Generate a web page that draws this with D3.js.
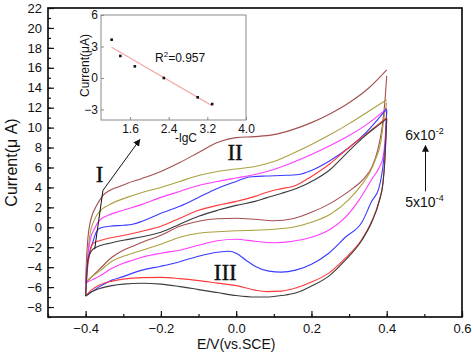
<!DOCTYPE html>
<html lang="en">
<head>
<meta charset="UTF-8">
<title>CV curves</title>
<script src="https://d3js.org/d3.v7.min.js"></script>
<style>
  body { margin: 0; background: #fff; }
</style>
</head>
<body>
<svg width="473" height="356" font-family='"Liberation Sans", Arial, sans-serif' fill="#111"></svg>
<script>
// [E (V), I (uA)] pairs, forward (upper) and reverse (lower) sweeps
const brownFwd = [[-0.4,-5.6],[-0.398,-3.5],[-0.394,-1.1],[-0.389,0.3],[-0.382,1.3],[-0.372,2.1],[-0.363,2.7],[-0.354,3.2],[-0.336,3.7],[-0.31,4.1],[-0.29,4.4],[-0.25,4.9],[-0.2,5.6],[-0.15,6.5],[-0.1,7.5],[-0.05,8.5],[0,9.0],[0.05,9.1],[0.1,9.3],[0.15,9.8],[0.2,10.5],[0.25,11.4],[0.3,12.5],[0.35,13.9],[0.4,15.8]];
const brownRev = [[-0.4,-5.6],[-0.385,-5.0],[-0.363,-4.2],[-0.33,-3.0],[-0.3,-2.3],[-0.275,-1.9],[-0.25,-1.5],[-0.2,-0.8],[-0.15,0.1],[-0.1,0.6],[-0.05,0.85],[0,0.9],[0.05,0.8],[0.1,0.65],[0.15,0.85],[0.2,1.5],[0.25,2.4],[0.28,3.1],[0.31,3.9],[0.34,4.9],[0.36,6.0],[0.375,7.6],[0.388,10.1],[0.396,13.0],[0.4,15.2]];

const oliveFwd = [[-0.4,-5.5],[-0.397,-4.0],[-0.394,-2.6],[-0.388,-0.6],[-0.381,0.4],[-0.372,1.1],[-0.363,1.6],[-0.34,2.2],[-0.319,2.6],[-0.29,3.0],[-0.25,3.5],[-0.2,4.0],[-0.15,4.6],[-0.1,5.2],[-0.05,5.6],[0,5.85],[0.05,6.1],[0.1,6.6],[0.15,7.4],[0.2,8.3],[0.25,9.3],[0.3,10.4],[0.35,11.6],[0.4,12.8]];
const oliveRev = [[-0.4,-5.5],[-0.385,-5.0],[-0.363,-4.4],[-0.33,-3.4],[-0.3,-2.9],[-0.275,-2.6],[-0.25,-2.3],[-0.2,-1.7],[-0.15,-1.0],[-0.1,-0.6],[-0.05,-0.45],[0,-0.35],[0.05,-0.3],[0.1,-0.2],[0.15,0.0],[0.2,0.5],[0.25,1.3],[0.3,2.8],[0.334,4.3],[0.355,5.5],[0.37,6.8],[0.384,8.5],[0.393,11.0],[0.4,12.5]];

const magentaFwd = [[-0.4,-5.6],[-0.396,-3.5],[-0.388,-1.3],[-0.376,-0.1],[-0.363,0.7],[-0.34,1.2],[-0.31,1.6],[-0.25,2.3],[-0.2,3.0],[-0.15,3.6],[-0.1,4.2],[-0.05,4.6],[0,4.95],[0.05,5.3],[0.1,5.8],[0.15,6.5],[0.2,7.3],[0.25,8.2],[0.3,9.2],[0.35,10.4],[0.4,11.9]];
const magentaRev = [[-0.4,-5.6],[-0.385,-5.3],[-0.363,-4.9],[-0.33,-4.1],[-0.3,-3.6],[-0.275,-3.3],[-0.25,-3.0],[-0.2,-2.6],[-0.15,-2.3],[-0.1,-1.8],[-0.05,-1.35],[0,-1.2],[0.05,-1.4],[0.1,-1.55],[0.15,-1.4],[0.2,-1.0],[0.25,-0.2],[0.29,1.0],[0.326,2.7],[0.36,4.8],[0.38,6.0],[0.39,7.0],[0.396,9.0],[0.4,11.7]];

const blueFwd = [[-0.4,-6.9],[-0.397,-4.5],[-0.39,-2.6],[-0.381,-1.5],[-0.372,-0.5],[-0.363,-0.1],[-0.336,0.1],[-0.3,0.2],[-0.275,0.3],[-0.25,0.6],[-0.2,1.4],[-0.15,2.1],[-0.1,3.0],[-0.05,3.9],[0,4.6],[0.035,5.05],[0.08,5.15],[0.12,5.2],[0.167,5.3],[0.2,5.7],[0.25,6.7],[0.3,8.0],[0.35,9.7],[0.4,11.9]];
const blueRev = [[-0.4,-6.9],[-0.385,-6.5],[-0.363,-5.95],[-0.33,-5.3],[-0.3,-4.95],[-0.275,-4.6],[-0.25,-4.3],[-0.2,-3.9],[-0.15,-3.45],[-0.1,-2.9],[-0.05,-2.5],[-0.018,-2.4],[0,-2.6],[0.026,-3.3],[0.05,-3.9],[0.087,-4.4],[0.12,-4.5],[0.158,-4.3],[0.2,-3.7],[0.246,-2.6],[0.29,-1.0],[0.334,0.5],[0.36,2.6],[0.379,3.9],[0.392,6.8],[0.397,9.0],[0.4,11.8]];

const redFwd = [[-0.4,-6.9],[-0.396,-4.5],[-0.389,-2.6],[-0.38,-1.6],[-0.363,-1.35],[-0.34,-1.1],[-0.31,-0.9],[-0.25,-0.4],[-0.2,0.1],[-0.15,0.9],[-0.1,1.7],[-0.05,2.2],[0,2.6],[0.05,3.1],[0.08,3.5],[0.11,3.8],[0.158,4.2],[0.2,5.1],[0.25,6.4],[0.29,7.7],[0.34,9.2],[0.38,10.4],[0.4,11.0]];
const redRev = [[-0.4,-6.9],[-0.385,-6.3],[-0.363,-5.78],[-0.33,-5.4],[-0.3,-5.2],[-0.25,-5.05],[-0.2,-5.02],[-0.15,-5.15],[-0.1,-5.35],[-0.05,-5.6],[0,-5.85],[0.05,-6.3],[0.08,-6.45],[0.12,-6.4],[0.158,-6.1],[0.2,-5.5],[0.246,-4.6],[0.29,-3.1],[0.334,-1.2],[0.36,0.6],[0.38,2.7],[0.39,4.5],[0.395,6.8],[0.4,11.0]];

const blackFwd = [[-0.4,-6.9],[-0.397,-4.8],[-0.394,-3.3],[-0.385,-2.4],[-0.372,-2.0],[-0.336,-1.6],[-0.3,-1.3],[-0.25,-0.95],[-0.2,-0.5],[-0.15,0.3],[-0.1,1.1],[-0.05,1.7],[0,2.2],[0.05,2.6],[0.08,2.95],[0.12,3.4],[0.16,3.9],[0.21,4.8],[0.25,5.8],[0.29,7.3],[0.34,9.1],[0.38,10.3],[0.4,10.9]];
const blackRev = [[-0.4,-6.9],[-0.385,-6.5],[-0.363,-6.15],[-0.33,-5.85],[-0.3,-5.7],[-0.25,-5.62],[-0.2,-5.7],[-0.15,-5.95],[-0.1,-6.25],[-0.05,-6.55],[0,-6.85],[0.05,-7.0],[0.08,-7.0],[0.12,-6.85],[0.158,-6.6],[0.2,-5.9],[0.246,-4.9],[0.29,-3.3],[0.334,-1.3],[0.36,0.5],[0.38,2.6],[0.39,4.4],[0.395,6.7],[0.4,10.9]];

const sweeps = [[brownFwd, brownRev], [oliveFwd, oliveRev], [magentaFwd, magentaRev], [blueFwd, blueRev], [redFwd, redRev], [blackFwd, blackRev]];
const lineColors = ["#a34f4f", "#aba040", "#ff3cff", "#3a3aff", "#ff3a3a", "#3c3c3c"];

// inset: -lgC vs peak current
const negLgC = [1.22, 1.40, 1.70, 2.30, 3.00, 3.30];
const peakCurrent = [3.65, 2.1, 1.11, 0.0, -1.84, -2.48];

const xTicks = [-0.4, -0.2, 0.0, 0.2, 0.4, 0.6];
const yTicks = d3.range(-8, 23, 2);
const insetXTicks = [1.6, 2.4, 3.2, 4.0];
const insetYTicks = [-3, 0, 3, 6];

// labels placed in data coordinates [E, I]
const peakLabels = [["I", -0.363, 4.5], ["II", -0.003, 6.8], ["III", -0.029, -5.3]];
const peakArrow = [[-0.376, -2.2], [-0.354, 3.7], [-0.256, 8.8]];

const svg = d3.select("svg");
const margin = {left: 48, right: 462, top: 8, bottom: 317};

const x = d3.scaleLinear().domain([-0.5, 0.6]).range([margin.left, margin.right]);
const y = d3.scaleLinear().domain([-9, 22]).range([margin.bottom, margin.top]);

svg.append("defs").append("marker")
    .attr("id", "head")
    .attr("viewBox", "0 0 10 10")
    .attr("refX", 9).attr("refY", 5)
    .attr("markerWidth", 7).attr("markerHeight", 7)
    .attr("markerUnits", "userSpaceOnUse")
    .attr("orient", "auto")
  .append("path")
    .attr("d", "M0,0 L10,5 L0,10 z")
    .attr("fill", "#111");

// axes, ticks pointing inward
const minorX = svg.append("g").attr("transform", `translate(0,${margin.bottom})`)
    .call(d3.axisBottom(x).tickValues(d3.range(-0.5, 0.61, 0.1)).tickSize(-3).tickFormat(""));
const xAxis = svg.append("g").attr("transform", `translate(0,${margin.bottom})`)
    .call(d3.axisBottom(x).tickValues(xTicks).tickSizeInner(-6).tickSizeOuter(0).tickPadding(7).tickFormat(d3.format(".1f")));
const minorY = svg.append("g").attr("transform", `translate(${margin.left},0)`)
    .call(d3.axisLeft(y).tickValues(d3.range(-9, 23, 1)).tickSize(-3).tickFormat(""));
const yAxis = svg.append("g").attr("transform", `translate(${margin.left},0)`)
    .call(d3.axisLeft(y).tickValues(yTicks).tickSizeInner(-6).tickSizeOuter(0).tickPadding(6));

[minorX, xAxis, minorY, yAxis].forEach(a => {
    a.select(".domain").remove();
    a.selectAll("line").attr("stroke", "#111").attr("stroke-width", 1.2);
    a.attr("font-size", 13).attr("font-family", null);
    a.selectAll("text").attr("fill", "#111");
});

svg.append("rect")
    .attr("x", margin.left).attr("y", margin.top)
    .attr("width", margin.right - margin.left).attr("height", margin.bottom - margin.top)
    .attr("fill", "none").attr("stroke", "#111").attr("stroke-width", 1.7);

svg.append("text")
    .attr("x", x(0.0)).attr("y", 349)
    .attr("text-anchor", "middle").attr("font-size", 14)
    .text("E/V(vs.SCE)");
svg.append("text")
    .attr("transform", `translate(17,${(margin.top + margin.bottom) / 2}) rotate(-90)`)
    .attr("text-anchor", "middle").attr("font-size", 16)
    .text("Current(μ A)");

// CV loops
const line = d3.line().x(d => x(d[0])).y(d => y(d[1])).curve(d3.curveMonotoneX);
sweeps.forEach((pair, i) => {
    pair.forEach(branch => {
        svg.append("path")
            .attr("d", line(branch))
            .attr("fill", "none")
            .attr("stroke", lineColors[i])
            .attr("stroke-width", 1.1);
    });
});

// peak labels (serif roman numerals)
svg.selectAll(".peak").data(peakLabels).enter().append("text")
    .attr("class", "peak")
    .attr("x", d => x(d[1])).attr("y", d => y(d[2]))
    .attr("text-anchor", "middle")
    .attr("font-family", '"Liberation Serif", "DejaVu Serif", serif')
    .attr("font-size", 23)
    .attr("stroke", "#111").attr("stroke-width", 0.4)
    .text(d => d[0]);

svg.append("path")
    .attr("d", d3.line().x(d => x(d[0])).y(d => y(d[1]))(peakArrow))
    .attr("fill", "none").attr("stroke", "#111").attr("stroke-width", 1)
    .attr("marker-end", "url(#head)");

// concentration arrow on the right
const concX = 0.503;
svg.append("line")
    .attr("x1", x(concX)).attr("x2", x(concX))
    .attr("y1", y(3.6)).attr("y2", y(8.2))
    .attr("stroke", "#111").attr("stroke-width", 1)
    .attr("marker-end", "url(#head)");

function powLabel(base, exp, yv) {
    const t = svg.append("text")
        .attr("x", x(concX) - 1).attr("y", y(yv))
        .attr("text-anchor", "middle").attr("font-size", 14);
    t.append("tspan").text(base);
    t.append("tspan").attr("font-size", 9).attr("dy", -6).text(exp);
}
powLabel("6x10", "-2", 8.8);
powLabel("5x10", "-4", 2.05);

// inset
const ib = {left: 101, right: 246, top: 15, bottom: 120};
const ix = d3.scaleLinear().domain([1.0, 4.0]).range([ib.left, ib.right]);
const iy = d3.scaleLinear().domain([-4, 6]).range([ib.bottom, ib.top]);
const inset = svg.append("g");

inset.append("rect")
    .attr("x", ib.left).attr("y", ib.top)
    .attr("width", ib.right - ib.left).attr("height", ib.bottom - ib.top)
    .attr("fill", "#fff").attr("stroke", "#8a8a8a").attr("stroke-width", 1);

const ixAxis = inset.append("g").attr("transform", `translate(0,${ib.bottom})`)
    .call(d3.axisBottom(ix).tickValues(insetXTicks).tickSizeInner(-3).tickSizeOuter(0).tickPadding(4).tickFormat(d3.format(".1f")));
const iyAxis = inset.append("g").attr("transform", `translate(${ib.left},0)`)
    .call(d3.axisLeft(iy).tickValues(insetYTicks).tickSizeInner(-3).tickSizeOuter(0).tickPadding(3));
[ixAxis, iyAxis].forEach(a => {
    a.select(".domain").remove();
    a.selectAll("line").attr("stroke", "#8a8a8a");
    a.attr("font-size", 12).attr("font-family", null);
    a.selectAll("text").attr("fill", "#111");
});

// least squares fit of the inset points
const mx = d3.mean(negLgC), my = d3.mean(peakCurrent);
const slope = d3.sum(negLgC, (v, i) => (v - mx) * (peakCurrent[i] - my)) / d3.sum(negLgC, v => (v - mx) * (v - mx));
const fitX = d3.extent(negLgC);
inset.append("line")
    .attr("x1", ix(fitX[0])).attr("y1", iy(my + slope * (fitX[0] - mx)))
    .attr("x2", ix(fitX[1])).attr("y2", iy(my + slope * (fitX[1] - mx)))
    .attr("stroke", "#f4a2a2").attr("stroke-width", 1.1);

inset.selectAll(".pt").data(negLgC).enter().append("rect")
    .attr("class", "pt")
    .attr("x", d => ix(d) - 1.3).attr("y", (d, i) => iy(peakCurrent[i]) - 1.3)
    .attr("width", 2.6).attr("height", 2.6).attr("fill", "#111");

const r2 = inset.append("text").attr("x", 155).attr("y", 62).attr("font-size", 12);
r2.append("tspan").text("R");
r2.append("tspan").attr("font-size", 8).attr("dy", -5).text("2");
r2.append("tspan").attr("dy", 5).text("=0.957");

inset.append("text")
    .attr("x", 186).attr("y", 142)
    .attr("text-anchor", "middle").attr("font-size", 12)
    .text("-lgC");
inset.append("text")
    .attr("transform", `translate(89,${(ib.top + ib.bottom) / 2 - 2}) rotate(-90)`)
    .attr("text-anchor", "middle").attr("font-size", 12)
    .text("Current(μA)");
</script>
</body>
</html>
